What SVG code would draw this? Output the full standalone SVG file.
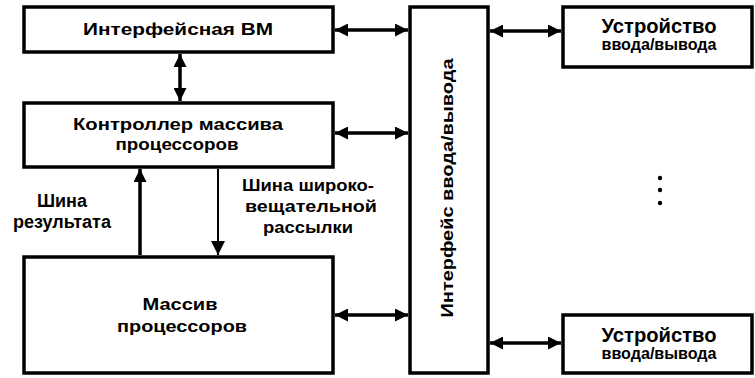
<svg xmlns="http://www.w3.org/2000/svg" width="755" height="378" viewBox="0 0 755 378">
<style>
.box{fill:#fff;stroke:#000;stroke-width:3.5}
.t{font-family:"Liberation Sans",Arial,sans-serif;font-weight:bold;font-size:17px;text-anchor:middle;fill:#000}
.w{font-family:"Liberation Sans",Arial,sans-serif;font-weight:bold;font-size:18px;text-anchor:middle;fill:#000}
.c{stroke:#000;stroke-width:3.5;fill:none}
</style>
<defs>
<marker id="ah" viewBox="0 0 10 10" refX="10" refY="5" markerWidth="13" markerHeight="13" orient="auto-start-reverse" markerUnits="userSpaceOnUse">
<path d="M0,0 L10,5 L0,10 z" fill="#000"/>
</marker>
<marker id="ah2" viewBox="0 0 10 10" refX="10" refY="5" markerWidth="14" markerHeight="15" orient="auto" markerUnits="userSpaceOnUse">
<path d="M0,0 L10,5 L0,10 z" fill="#000"/>
</marker>
</defs>
<rect width="755" height="378" fill="#fff"/>
<g id="connectors">
<line class="c" x1="335" y1="30" x2="408" y2="30" marker-start="url(#ah)" marker-end="url(#ah)"/>
<line class="c" x1="335" y1="133" x2="408" y2="133" marker-start="url(#ah)" marker-end="url(#ah)"/>
<line class="c" x1="335" y1="315" x2="408" y2="315" marker-start="url(#ah)" marker-end="url(#ah)"/>
<line class="c" x1="490" y1="31" x2="561" y2="31" marker-start="url(#ah)" marker-end="url(#ah)"/>
<line class="c" x1="490" y1="343" x2="561" y2="343" marker-start="url(#ah)" marker-end="url(#ah)"/>
<line class="c" x1="180" y1="54" x2="180" y2="101" marker-start="url(#ah)" marker-end="url(#ah)"/>
<line class="c" x1="140" y1="255" x2="140" y2="169" marker-end="url(#ah)"/>
<line class="c" x1="218" y1="169" x2="218" y2="255" style="stroke-width:2" marker-end="url(#ah2)"/>
</g>
<g id="vm">
<rect class="box" x="24" y="7" width="309" height="45"/>
<text class="t" x="178" y="35" textLength="190" lengthAdjust="spacingAndGlyphs">Интерфейсная ВМ</text>
</g>
<g id="controller">
<rect class="box" x="24" y="103" width="309" height="64"/>
<text class="t" x="178" y="130" textLength="210" lengthAdjust="spacingAndGlyphs">Контроллер массива</text>
<text class="t" x="177" y="150" textLength="123" lengthAdjust="spacingAndGlyphs">процессоров</text>
</g>
<g id="array">
<rect class="box" x="24" y="257" width="309" height="116"/>
<text class="t" x="180" y="310" textLength="75" lengthAdjust="spacingAndGlyphs">Массив</text>
<text class="t" x="182" y="332" textLength="130" lengthAdjust="spacingAndGlyphs">процессоров</text>
</g>
<g id="io-interface">
<rect class="box" x="410" y="7" width="78" height="366"/>
<text class="t" transform="translate(453,188) rotate(-90)" textLength="259" lengthAdjust="spacingAndGlyphs">Интерфейс ввода/вывода</text>
</g>
<g id="device1">
<rect class="box" x="563" y="7" width="189" height="60"/>
<text class="w" x="659" y="33" style="font-size:20px" textLength="115" lengthAdjust="spacingAndGlyphs">Устройство</text>
<text class="t" x="659" y="50" textLength="115" lengthAdjust="spacingAndGlyphs">ввода/вывода</text>
</g>
<g id="device2">
<rect class="box" x="563" y="315" width="189" height="58"/>
<text class="w" x="659" y="342" style="font-size:20px" textLength="115" lengthAdjust="spacingAndGlyphs">Устройство</text>
<text class="t" x="659" y="359" textLength="115" lengthAdjust="spacingAndGlyphs">ввода/вывода</text>
</g>
<g id="labels">
<text class="w" x="62" y="207">Шина</text>
<text class="w" x="62" y="228">результата</text>
<text class="t" x="308" y="191" textLength="132" lengthAdjust="spacingAndGlyphs">Шина широко-</text>
<text class="t" x="311" y="212" textLength="132" lengthAdjust="spacingAndGlyphs">вещательной</text>
<text class="t" x="308" y="233" textLength="90" lengthAdjust="spacingAndGlyphs">рассылки</text>
</g>
<g id="ellipsis" fill="#000">
<circle cx="660" cy="178" r="2.2"/>
<circle cx="660" cy="190" r="2.2"/>
<circle cx="660" cy="203" r="2.2"/>
</g>
</svg>
